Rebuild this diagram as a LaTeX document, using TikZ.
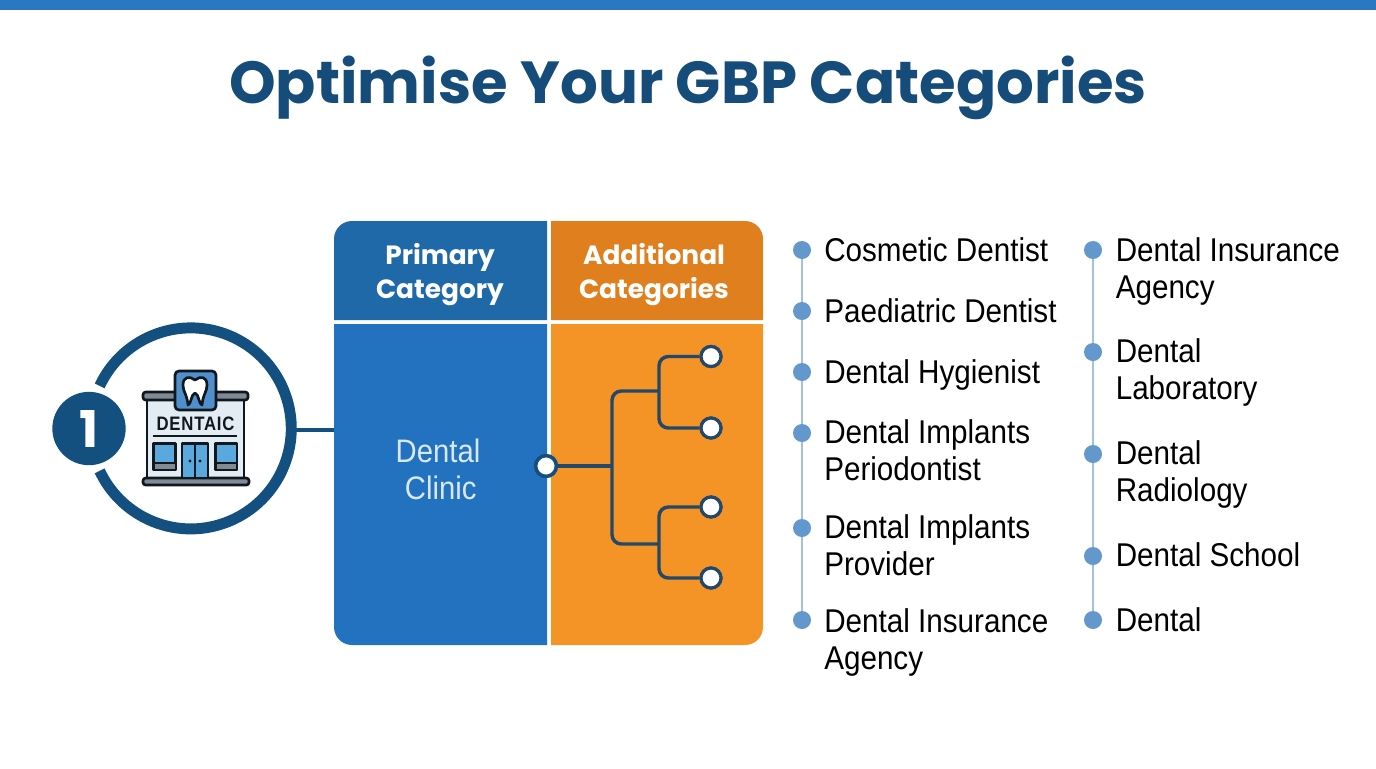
\documentclass[tikz,border=0pt]{standalone}
\usepackage{fontspec}
\setmainfont{Liberation Sans}
\newfontfamily\popf{Poppins}
\newfontfamily\lstf[FakeStretch=0.9]{Liberation Sans}
\newfontfamily\signf[LetterSpace=4,FakeStretch=0.86]{Liberation Sans}
\definecolor{topbar}{HTML}{2B78C2}
\definecolor{titleblue}{HTML}{154C79}
\definecolor{ringblue}{HTML}{14507F}
\definecolor{headblue}{HTML}{1F69A8}
\definecolor{bodyblue}{HTML}{2272BF}
\definecolor{headorange}{HTML}{E07F1E}
\definecolor{bodyorange}{HTML}{F59426}
\definecolor{treeline}{HTML}{24486A}
\definecolor{dotblue}{HTML}{6398CC}
\definecolor{railblue}{HTML}{A3C2DC}
\definecolor{clinictext}{HTML}{D9E8F6}
\definecolor{iconink}{HTML}{10171F}
\definecolor{icongrey}{HTML}{7F8A94}
\definecolor{iconwall}{HTML}{E3EBF3}
\definecolor{iconblue}{HTML}{5AA9DE}
\definecolor{signblue}{HTML}{4F8FCB}
\tikzset{
  x=0.75pt,y=-0.75pt,
  leaf/.style={circle,draw=treeline,fill=white,line width=2.4pt,minimum size=15pt,inner sep=0pt},
  rootdot/.style={circle,draw=ringblue,fill=white,line width=2.6pt,minimum size=15.5pt,inner sep=0pt},
  branch/.style={draw=treeline,line width=2.6pt,rounded corners=7pt},
  dot/.style={circle,fill=dotblue,minimum size=13.5pt,inner sep=0pt},
  rail/.style={draw=railblue,line width=1.1pt},
  item/.style={anchor=base west,inner sep=0pt,align=left,text=black,font=\lstf\fontsize{24.7pt}{27.75pt}\selectfont},
  head/.style={text=white,align=center,inner sep=0pt,font=\popf\bfseries\fontsize{19.8pt}{25.5pt}\selectfont},
  ink/.style={draw=iconink,line width=2pt,line join=round}
}
\begin{document}
\begin{tikzpicture}
\useasboundingbox (0,0) rectangle (1376,768);
\fill[white] (0,0) rectangle (1376,768);
\fill[topbar] (0,0) rectangle (1376,10);
\node[anchor=base,inner sep=0pt,text=titleblue,font=\popf\bfseries\fontsize{44.5pt}{50pt}\selectfont] (title) at (688,103) {Optimise Your GBP Categories};

% panel
\fill[headblue] (334,320) [rounded corners=13.5pt] -- (334,221) [sharp corners] -- (547,221) -- (547,320) -- cycle;
\fill[headorange] (551,320) -- (551,221) [rounded corners=13.5pt] -- (763,221) [sharp corners] -- (763,320) -- cycle;
\fill[bodyblue] (547,324) -- (334,324) [rounded corners=13.5pt] -- (334,645) [sharp corners] -- (547,645) -- cycle;
\fill[bodyorange] (551,324) -- (763,324) [rounded corners=13.5pt] -- (763,645) [sharp corners] -- (551,645) -- cycle;
\node[head] (primary) at (440,275) {Primary\\Category};
\node[head] (additional) at (654,275) {Additional\\Categories};
\node[inner sep=0pt,align=center,text=clinictext,font=\lstf\fontsize{24.4pt}{27.75pt}\selectfont] (clinic) at (438,469.5) {Dental\\ \hspace*{4pt}Clinic};
\coordinate (panelEdge) at (334,430);

% ring and badge
\node[circle,minimum size=150.75pt,inner sep=0pt] (ring) at (191,428.5) {};
\draw[draw=ringblue,line width=8.2pt] (ring.155) arc[start angle=-155,end angle=155,radius=100.5];
\coordinate (ringEdge) at (296,430);
\draw[draw=ringblue,line width=3pt] (ringEdge) -- (panelEdge);
\node[circle,fill=ringblue,minimum size=55pt,inner sep=0pt,text=white,font=\popf\bfseries\fontsize{38pt}{40pt}\selectfont] (badge) at (89,428.5) {1};

% icon
\filldraw[ink,fill=iconwall] (147,398) rectangle (244,478);
\filldraw[ink,fill=icongrey,rounded corners=2pt] (143,392) rectangle (248,400);
\filldraw[ink,fill=icongrey,rounded corners=2pt] (143,478) rectangle (249,485);
\filldraw[ink,fill=signblue,rounded corners=3pt] (175,371) rectangle (216,410);
\filldraw[ink,fill=white] (195,380) .. controls (190,376) and (183,376) .. (183,385) .. controls (183,392) and (187,394) .. (188,405) .. controls (191,405) and (191,394) .. (195,393) .. controls (199,394) and (199,405) .. (202,405) .. controls (203,394) and (207,392) .. (207,385) .. controls (207,376) and (200,376) .. (195,380) -- cycle;
\node[inner sep=0pt,text=iconink,font=\signf\bfseries\fontsize{14.6pt}{16pt}\selectfont] (dentaic) at (195.5,423.5) {DENTAIC};
\draw[draw=iconink,line width=1.4pt] (153,436) -- (237,436);
\filldraw[ink,fill=iconblue] (153.5,443.5) rectangle (175.5,470);
\fill[icongrey] (154.5,463) rectangle (174.5,469);
\draw[ink] (153.5,463) -- (175.5,463);
\filldraw[ink,fill=iconblue] (215.5,443.5) rectangle (237,470);
\fill[icongrey] (216.5,463) rectangle (236,469);
\draw[ink] (215.5,463) -- (237,463);
\filldraw[ink,fill=iconblue] (182,443.5) rectangle (208,478);
\draw[ink] (195,443.5) -- (195,478);
\fill[iconink] (190,461) circle[radius=1.6] (200,461) circle[radius=1.6];

% tree
\coordinate (j0) at (612,466);
\coordinate (j1) at (659,391);
\coordinate (j2) at (659,544);
\node[leaf] (l1) at (711,356.5) {};
\node[leaf] (l2) at (711,428) {};
\node[leaf] (l3) at (711,507) {};
\node[leaf] (l4) at (711,578) {};
\draw[branch] (j1) -- (j0 |- j1) -- (j2 -| j0) -- (j2);
\draw[branch] (l1) -- (l1 -| j1) -- (l2 -| j1) -- (l2);
\draw[branch] (l3) -- (l3 -| j2) -- (l4 -| j2) -- (l4);
\node[rootdot] (root) at (546,466) {};
\draw[branch] (root) -- (j0);
\node[leaf] at (l1) {};
\node[leaf] at (l2) {};
\node[leaf] at (l3) {};
\node[leaf] at (l4) {};
\node[rootdot] at (root) {};

% list 1
\node[dot] (a1) at (802,250) {};
\node[dot] (a2) at (802,311) {};
\node[dot] (a3) at (802,372) {};
\node[dot] (a4) at (802,433) {};
\node[dot] (a5) at (802,528) {};
\node[dot] (a6) at (802,620) {};
\draw[rail] (a1) -- (a2);
\draw[rail] (a2) -- (a3);
\draw[rail] (a3) -- (a4);
\draw[rail] (a4) -- (a5);
\draw[rail] (a5) -- (a6);
\node[item] (ta1) at (824,261) {Cosmetic Dentist};
\node[item] (ta2) at (824,322) {Paediatric Dentist};
\node[item] (ta3) at (824,383) {Dental Hygienist};
\node[item] (ta4) at (824,480) {Dental Implants\\Periodontist};
\node[item] (ta5) at (824,575) {Dental Implants\\Provider};
\node[item] (ta6) at (824,669.5) {Dental Insurance\\Agency};

% list 2
\node[dot] (b1) at (1093,250) {};
\node[dot] (b2) at (1093,352) {};
\node[dot] (b3) at (1093,454) {};
\node[dot] (b4) at (1093,556) {};
\node[dot] (b5) at (1093,620) {};
\draw[rail] (b1) -- (b2);
\draw[rail] (b2) -- (b3);
\draw[rail] (b3) -- (b4);
\draw[rail] (b4) -- (b5);
\node[item] (tb1) at (1115.5,298) {Dental Insurance\\Agency};
\node[item] (tb2) at (1115.5,399.5) {Dental\\Laboratory};
\node[item] (tb3) at (1115.5,501.5) {Dental\\Radiology};
\node[item] (tb4) at (1115.5,566) {Dental School};
\node[item] (tb5) at (1115.5,631) {Dental};
\end{tikzpicture}
\end{document}
